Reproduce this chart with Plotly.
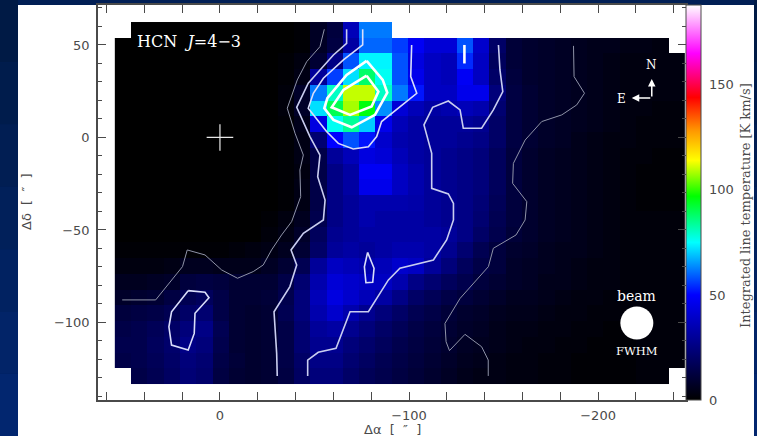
import plotly.graph_objects as go

N = None
x_centres = [51.3, 42.7, 34.1, 25.4, 16.8, 8.2, -0.4, -9.0, -17.7, -26.3, -34.9, -43.5, -52.1, -60.8, -69.4,
             -78.0, -86.6, -95.2, -103.9, -112.5, -121.1, -129.7, -138.3, -147.0, -155.6, -164.2, -172.8,
             -181.4, -190.1, -198.7, -207.3, -215.9, -224.5, -233.2, -241.8]
y_centres = [58.15, 49.65, 41.15, 32.65, 24.15, 15.65, 7.15, -1.35, -9.85, -18.35, -26.85, -35.35, -43.85,
             -52.35, -60.85, -69.35, -77.85, -86.35, -94.85, -103.35, -111.85, -120.35, -128.85]
intensity = [
 [N,0,0,0,0,0,0,0,0,0,0,1, 7,12,36,62,62,N,N,N,N,N,N,N, N,N,N,N,N,N,N,N,N,N,N],
 [0,0,0,0,0,0,0,0,0,0,0,1, 7,13,32,60,60,56,48,42,42,58,40,20, 11,9,8,7,6,5,5,4,4,3,N],
 [0,0,0,0,0,0,0,0,0,0,1,3, 10,26,58,74,74,58,44,38,36,54,38,18, 11,9,8,7,6,5,4,3,3,3,3],
 [0,0,0,0,0,0,0,0,0,0,1,4, 30,56,72,88,76,58,46,38,36,48,38,20, 12,9,8,7,6,5,4,3,3,3,3],
 [0,0,0,0,0,0,0,0,0,0,2,8, 62,80,110,110,80,62,52,38,38,46,46,24, 13,10,8,7,6,5,4,3,3,3,3],
 [0,0,0,0,0,0,0,0,0,0,2,8, 72,90,108,96,64,42,36,32,34,36,34,22, 13,10,8,7,6,5,4,3,3,2,2],
 [0,0,0,0,0,0,0,0,0,0,1,5, 44,76,84,70,46,36,32,30,30,30,28,20, 13,10,8,7,6,5,4,3,2,2,2],
 [0,0,0,0,0,0,0,0,0,0,1,4, 22,50,58,52,40,34,32,30,30,28,26,20, 13,10,8,7,5,4,3,3,2,2,2],
 [0,0,0,0,0,0,0,0,0,0,1,4, 14,30,36,44,42,36,32,30,28,26,24,18, 12,9,7,6,5,4,3,2,2,1,1],
 [0,0,0,0,0,0,0,0,0,0,1,3, 14,26,32,48,48,38,34,30,28,26,24,18, 12,9,7,6,5,4,3,2,1,1,1],
 [0,0,0,0,0,0,0,0,0,0,1,4, 14,26,32,46,46,38,34,30,28,26,24,18, 12,9,7,6,5,4,3,2,1,1,1],
 [0,0,0,0,0,0,0,0,0,0,1,4, 14,26,30,34,34,34,33,30,28,26,23,17, 12,9,7,6,5,4,3,2,1,1,1],
 [0,0,0,0,0,0,0,0,0,1,3,6, 15,26,30,34,32,32,32,30,28,26,22,16, 12,9,7,6,5,4,3,2,2,2,2],
 [0,0,0,0,0,0,0,0,0,2,4,8, 18,28,30,32,32,32,32,32,30,26,20,15, 11,9,7,6,5,4,3,2,2,2,2],
 [1,1,1,1,1,1,1,2,3,4,6,10, 20,30,32,30,32,34,34,32,28,22,16,12, 9,8,6,5,5,4,3,2,2,2,2],
 [3,3,3,4,6,6,5,5,5,7,10,16, 30,38,36,34,36,40,38,30,24,18,14,12, 8,7,6,5,4,3,3,2,2,2,2],
 [6,6,7,8,12,13,12,10,10,10,14,22, 34,42,40,38,38,34,26,22,18,15,12,10, 8,7,5,5,4,3,3,2,2,2,2],
 [8,9,10,13,16,18,14,10,10,11,15,24, 36,44,40,36,32,26,20,17,14,12,10,8, 6,6,5,4,3,3,2,2,2,2,2],
 [12,13,14,16,20,22,14,10,9,10,16,24, 34,40,34,28,24,20,16,14,11,9,8,6, 5,5,4,3,3,2,2,2,2,2,2],
 [14,15,17,20,24,26,16,10,9,10,14,22, 30,32,28,24,20,17,14,12,10,8,7,5, 4,4,3,3,2,2,1,1,2,2,2],
 [15,15,18,21,26,24,15,10,9,10,14,22, 28,28,24,21,18,15,13,11,9,7,6,5, 4,3,3,2,2,1,1,1,2,2,2],
 [14,15,17,20,24,22,14,11,9,10,14,20, 26,26,22,19,16,14,12,10,8,6,5,4, 3,3,2,2,1,1,1,1,2,2,2],
 [N,14,16,19,23,21,13,10,9,10,13,19, 24,24,20,17,15,13,11,9,7,5,4,4, 3,3,2,2,1,1,1,1,2,2,N],
]

# contour paths in arcsec offsets (RA offset, Dec offset)
low_east_x = [-55.2,-52.9,-45.9,-40.9,-35.6,-39.7,-44.1,-42.3,-42.7,-37.9,-32.6,-27.3,-22.9,-17.6,-9.3,-0.9,7.9,17.3,19.8,34.0,51.7]
low_east_y = [58.5,49.1,41.0,31.1,15.8,2.3,-9.5,-17.6,-32.0,-45.5,-52.7,-60.8,-68.9,-72.5,-76.1,-71.6,-63.5,-60.8,-69.8,-87.8,-87.8]
low_west_x = [-187.0,-187.3,-192.8,-188.7,-180.8,-170.2,-161.4,-155.2,-154.8,-162.3,-161.4,-156.6,-144.6,-142.0,-127.0,-119.0,-119.6,-121.4,-129.6,-138.4,-141.9,-141.9]
low_west_y = [49.5,32.9,23.9,17.6,12.2,8.6,-1.4,-14.0,-24.8,-34.7,-44.6,-52.7,-59.9,-69.8,-87.0,-100.5,-110.4,-115.2,-106.4,-113.1,-120.3,-128.9]
mid_east_x = [-67.0,-67.0,-60.0,-52.9,-46.7,-40.6,-47.6,-52.9,-51.7,-55.6,-54.7,-44.1,-37.6,-40.6,-37.0,-28.6,-30.0,-30.3]
mid_east_y = [58.5,50.9,44.6,36.5,29.3,16.3,0.5,-9.5,-21.2,-33.8,-44.6,-51.8,-60.8,-68.9,-80.6,-94.2,-116.7,-128.9]
mid_west_x = [-147.3,-148.1,-149.6,-144.6,-138.4,-128.7,-127.0,-120.8,-112.5,-107.9,-112.0,-112.0,-120.8,-123.5,-123.5,-119.9,-112.9,-105.8,-100.5,-95.2,-89.1,-78.5,-68.8,-61.4,-52.0,-46.4,-46.4]
mid_west_y = [50.0,36.5,24.8,14.9,5.0,5.0,14.9,19.7,16.3,6.8,-8.6,-27.5,-30.5,-35.6,-44.6,-55.4,-66.2,-68.0,-69.5,-70.7,-77.0,-94.2,-94.2,-114.0,-116.1,-120.3,-128.9]
high_x = [-75.5,-75.5,-65.3,-54.7,-49.4,-46.7,-56.4,-62.6,-70.5,-78.5,-82.9,-85.5,-104.1,-100.9,-101.4]
high_y = [58.5,50.0,41.9,32.0,23.9,15.8,3.2,-3.2,-6.2,-5.0,0.5,8.6,23.9,32.9,50.0]
loop_south_x = [16.8,7.9,5.8,13.2,13.6,16.8,25.6,27.0,25.6,16.8]
loop_south_y = [-82.8,-83.7,-86.6,-95.0,-105.9,-114.9,-112.2,-102.3,-94.2,-82.8]
loop_mid_x = [-78.1,-81.5,-80.8,-77.2,-76.4,-78.1]
loop_mid_y = [-62.1,-70.7,-78.3,-78.5,-69.9,-62.1]
sliver_x = [-129.3,-129.3]
sliver_y = [50.0,40.0]
peak_outer_x = [-77.6,-86.1,-88.5,-82.0,-69.7,-60.0,-55.2,-56.8,-67.0,-77.6]
peak_outer_y = [41.4,31.1,24.2,12.2,5.5,9.5,15.8,21.2,33.8,41.4]
peak_inner_x = [-77.6,-83.8,-80.2,-68.8,-59.1,-65.3,-77.6]
peak_inner_y = [33.4,24.8,16.7,12.2,16.3,25.7,33.4]

cmap_max = 188
cmap_stops = [(0, "#000000"), (50, "#0000ff"), (75, "#00ffff"), (97, "#00ff00"), (114, "#ffff00"),
              (128, "#ff9900"), (144, "#ff0000"), (165, "#ff00ff"), (188, "#ffffff")]
colorscale = [[v / cmap_max, c] for v, c in cmap_stops]
bar_major_ticks = [0, 50, 100, 150]

W, H = 757, 436
L, MAP_R, BAR_R, T, B = 98, 686, 701, 5, 400
PW, PH = BAR_R - L, B - T
DOMAIN_R = (MAP_R - L) / PW
SERIF = "DejaVu Serif"
SANS = "DejaVu Sans"
GREY = "#4a4a4a"

fig = go.Figure()
fig.add_trace(go.Heatmap(
    x=x_centres, y=y_centres, z=intensity, zmin=0, zmax=cmap_max, colorscale=colorscale,
    hoverongaps=False,
    colorbar=dict(x=DOMAIN_R, xanchor="left", xpad=0, y=0.5, yanchor="middle", ypad=0, len=1, thickness=15,
                  outlinecolor=GREY, outlinewidth=1, ticks="", showticklabels=False),
))

def path(xs, ys, color, width):
    fig.add_trace(go.Scatter(x=xs, y=ys, mode="lines", hoverinfo="skip", showlegend=False,
                             line=dict(color=color, width=width, shape="linear")))

path(low_east_x, low_east_y, "#8f93a8", 1)
path(low_west_x, low_west_y, "#8f93a8", 1)
path(mid_east_x, mid_east_y, "#c9cdf0", 1.6)
path(mid_west_x, mid_west_y, "#c9cdf0", 1.6)
path(high_x, high_y, "#d9ddfa", 1.6)
path(loop_south_x, loop_south_y, "#d9ddfa", 1.6)
path(loop_mid_x, loop_mid_y, "#d9ddfa", 1.6)
path(sliver_x, sliver_y, "#ffffff", 2.6)
path(peak_outer_x, peak_outer_y, "#ffffff", 2.6)
path(peak_inner_x, peak_inner_y, "#ffffff", 2.6)

fig.add_trace(go.Scatter(x=[0], y=[0], mode="markers", hoverinfo="skip", showlegend=False,
                         marker=dict(symbol="cross-thin", size=19, line=dict(color="#e8e8e8", width=1.2))))
fig.add_trace(go.Scatter(x=[-220.5], y=[-100.3], mode="markers", hoverinfo="skip", showlegend=False,
                         marker=dict(symbol="circle", size=33, color="white", line=dict(width=0))))
# empty trace that carries the colour bar's axis
fig.add_trace(go.Scatter(x=[None], y=[None], yaxis="y2", mode="markers", hoverinfo="skip", showlegend=False))

axis_common = dict(showgrid=False, zeroline=False, showline=True, linecolor=GREY, linewidth=1.5,
                   mirror="allticks", ticks="inside", ticklen=8, tickcolor=GREY, tickwidth=1,
                   tickfont=dict(family=SANS, size=13, color=GREY), layer="above traces")
fig.update_xaxes(range=[64.5, -246.5], tick0=0, dtick=100, domain=[0, DOMAIN_R], ticklabelstandoff=3,
                 minor=dict(dtick=20, ticks="inside", ticklen=4, tickcolor=GREY), **axis_common)
fig.update_yaxes(range=[-141.9, 71.6], tick0=0, dtick=50, ticklabelstandoff=4,
                 minor=dict(dtick=10, ticks="inside", ticklen=4, tickcolor=GREY), **axis_common)

def py(p):
    return (B - p) / PH

def px(p):
    return (p - L) / PW

shapes = [dict(type="rect", xref="paper", yref="paper", x0=px(18), x1=px(754), y0=py(436), y1=py(5),
               fillcolor="white", line_width=0, layer="below")]
strip_colors = ["#001a45", "#001c4c", "#011e53", "#01205a", "#012261", "#022468", "#02266f"]
for k, c in enumerate(strip_colors):
    y0 = k * H / len(strip_colors)
    y1 = (k + 1) * H / len(strip_colors)
    shapes.append(dict(type="rect", xref="paper", yref="paper", x0=px(0), x1=px(18), y0=py(y1), y1=py(y0),
                       fillcolor=c, line_width=0, layer="below"))
    shapes.append(dict(type="rect", xref="paper", yref="paper", x0=px(754), x1=px(757), y0=py(y1), y1=py(y0),
                       fillcolor=c, line_width=0, layer="below"))

def note(text, x, y, size=12, color="white", family=SERIF, xanchor="center"):
    return dict(text=text, x=x, y=y, xref="x", yref="y", showarrow=False, xanchor=xanchor, yanchor="middle",
                font=dict(family=family, size=size, color=color))

def paper_note(text, xp, yp, size=13, family=SERIF, **kw):
    return dict(text=text, x=px(xp), y=py(yp), xref="paper", yref="paper", showarrow=False,
                xanchor="center", yanchor="middle",
                font=dict(family=family, size=size, color=GREY), **kw)

annotations = [
    note("HCN  <i>J</i>=4\u22123", 45, 52, size=16, xanchor="left"),
    note("beam", -220.5, -85.5, size=14),
    note("FWHM", -220.5, -115.5, size=11.5),
    note("N", -228.4, 39.2, size=12),
    note("E", -212.2, 21.0, size=12),
    dict(text="", x=-228.4, y=31.6, ax=-228.4, ay=21.4, xref="x", yref="y", axref="x", ayref="y",
         showarrow=True, arrowhead=2, arrowsize=1, arrowwidth=1.5, arrowcolor="white"),
    dict(text="", x=-217.8, y=21.4, ax=-228.4, ay=21.4, xref="x", yref="y", axref="x", ayref="y",
         showarrow=True, arrowhead=2, arrowsize=1, arrowwidth=1.5, arrowcolor="white"),
    paper_note("\u0394\u03b1  [  \u2033  ]", 392, 429, size=13, family=SANS),
    paper_note("\u0394\u03b4  [  \u2033  ]", 26, 202, size=13, family=SANS, textangle=-90),
    paper_note("Integrated line temperature [K km/s]", 745, 205, textangle=-90),
]

fig.update_layout(width=W, height=H, margin=dict(l=L, r=W - BAR_R, t=T, b=H - B, pad=0, autoexpand=False),
                  paper_bgcolor="#011f55", plot_bgcolor="white", showlegend=False,
                  shapes=shapes, annotations=annotations,
                  yaxis2=dict(overlaying="y", side="right", anchor="free", position=1, range=[0, cmap_max],
                              tickmode="array", tickvals=bar_major_ticks, showgrid=False, zeroline=False,
                              showline=False, ticks="inside", ticklen=7, tickcolor=GREY, tickwidth=1,
                              ticklabelstandoff=7,
                              minor=dict(dtick=10, ticks="inside", ticklen=4, tickcolor=GREY),
                              tickfont=dict(family=SANS, size=13, color=GREY), layer="above traces"))

fig.write_html("out.html", config=dict(displayModeBar=False),
               post_script="document.body.style.margin='0';document.body.style.overflow='hidden';")
